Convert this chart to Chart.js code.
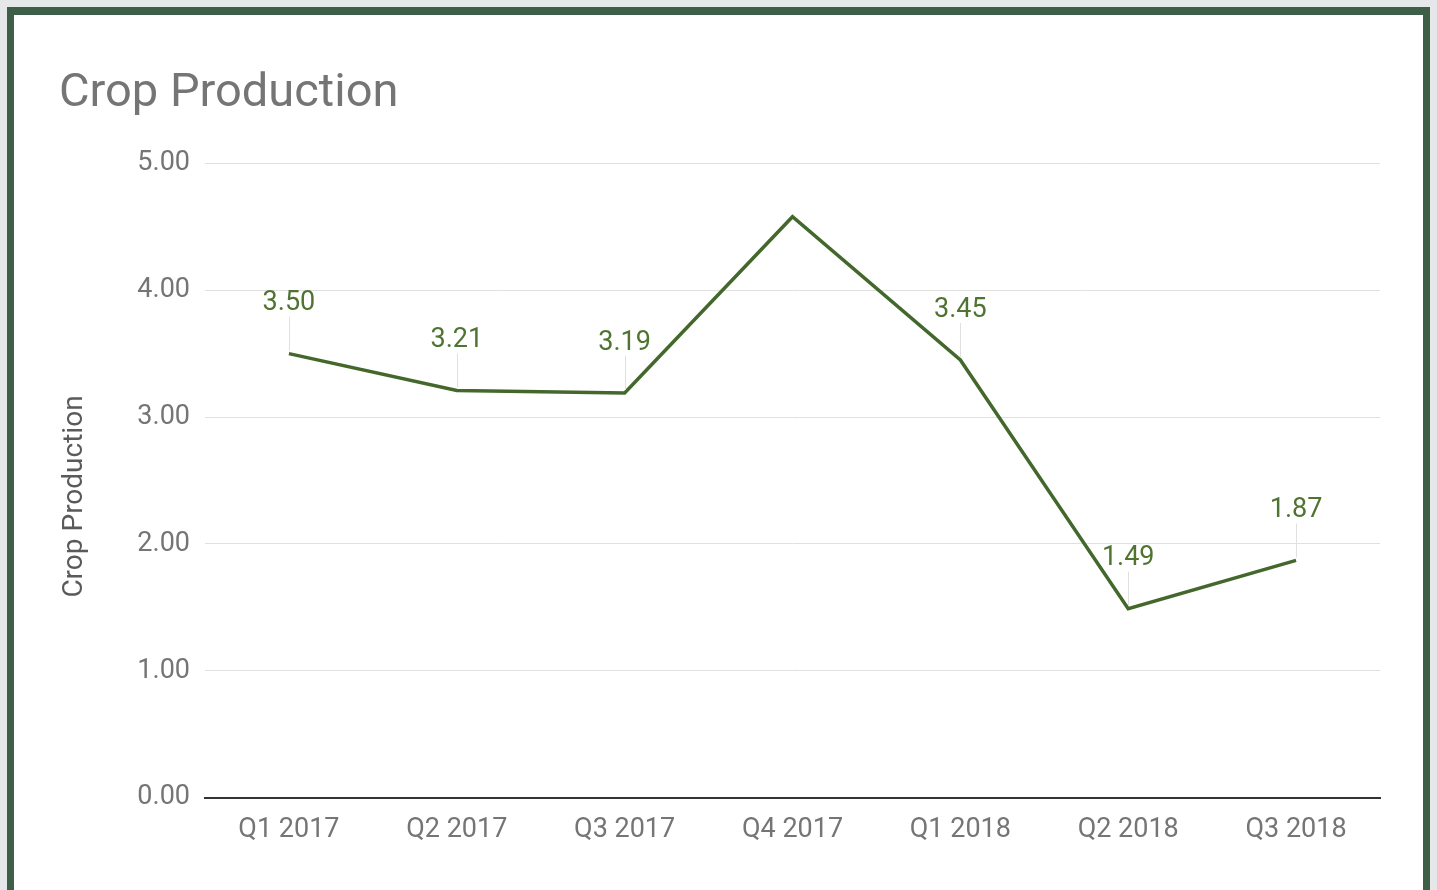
<!DOCTYPE html>
<html>
<head>
<meta charset="utf-8">
<script src="https://cdn.jsdelivr.net/npm/chart.js@4.4.0/dist/chart.umd.min.js"></script>
<style>
  html, body { margin: 0; padding: 0; background: #e6e7e8; overflow: hidden; }
  .card {
    position: absolute; left: 7px; top: 7px; width: 1409px; height: 900px;
    border: 7px solid #3d5e47; border-top-width: 8px; background: #fff;
  }
  #myChart { display: block; }
</style>
</head>
<body>
<div class="card"><canvas id="myChart" width="1409" height="875"></canvas></div>
<script>
const quarters = ["Q1 2017", "Q2 2017", "Q3 2017", "Q4 2017", "Q1 2018", "Q2 2018", "Q3 2018"];
const production = [3.50, 3.21, 3.19, 4.58, 3.45, 1.49, 1.87];
// Q4 2017 has no label in the original
const pointLabels = ["3.50", "3.21", "3.19", null, "3.45", "1.49", "1.87"];
const yTicks = [0, 1, 2, 3, 4, 5];
const yTitle = "Crop Production";

const lineGreen = "#44682c";
const grey = "#757575";

const labelPlugin = {
  id: "pointLabels",
  afterDatasetsDraw(chart) {
    const ctx = chart.ctx;
    const meta = chart.getDatasetMeta(0);
    ctx.save();
    meta.data.forEach((pt, i) => {
      if (pointLabels[i] == null) return;
      ctx.strokeStyle = "#e0e0e0";
      ctx.lineWidth = 1;
      ctx.beginPath();
      ctx.moveTo(Math.round(pt.x) + 0.5, pt.y - 3);
      ctx.lineTo(Math.round(pt.x) + 0.5, pt.y - 37);
      ctx.stroke();
      ctx.fillStyle = "#4f7431";
      ctx.font = "27px Roboto";
      ctx.textAlign = "center";
      ctx.textBaseline = "middle";
      ctx.fillText(pointLabels[i], pt.x, pt.y - 50);
    });
    // axis title, sits a little below the plot centre like the original
    const a = chart.chartArea;
    ctx.translate(61, (a.top + a.bottom) / 2 + 16);
    ctx.rotate(-Math.PI / 2);
    ctx.fillStyle = "#5a5a5a";
    ctx.font = "28px Roboto";
    ctx.textAlign = "center";
    ctx.textBaseline = "middle";
    ctx.fillText(yTitle, 0, 0);
    ctx.restore();
  },
};

let myCt = document.getElementById("myChart");
let myChart = new Chart(myCt, {
  type: "line",
  data: {
    labels: quarters,
    datasets: [
      {
        label: "Crop Production",
        data: production,
        borderColor: lineGreen,
        borderWidth: 3.5,
        pointRadius: 0,
        tension: 0,
        fill: false,
      },
    ],
  },
  options: {
    responsive: false,
    animation: false,
    layout: { padding: { left: 45, right: 43, top: 0, bottom: 28 } },
    plugins: {
      legend: { display: false },
      tooltip: { enabled: false },
      title: {
        display: true,
        text: "Crop Production",
        align: "start",
        color: grey,
        font: { family: "Roboto", size: 47, weight: "normal" },
        padding: { top: 51, bottom: 41 },
      },
    },
    scales: {
      x: {
        offset: true,
        grid: { display: false, drawTicks: false },
        border: { display: true, color: "#333", width: 2 },
        ticks: { color: grey, font: { family: "Roboto", size: 27 }, padding: 16, maxRotation: 0 },
      },
      y: {
        min: 0,
        max: 5,
        afterBuildTicks: (s) => { s.ticks = yTicks.map((v) => ({ value: v })); },
        afterFit: (s) => { s.width = 146; },
        grid: { color: "#e0e0e0", drawTicks: false },
        border: { display: false },
        ticks: {
          color: grey,
          font: { family: "Roboto", size: 27 },
          padding: 15,
          callback: (v) => Number(v).toFixed(2),
        },
      },
    },
  },
  plugins: [labelPlugin],
});
</script>
</body>
</html>
